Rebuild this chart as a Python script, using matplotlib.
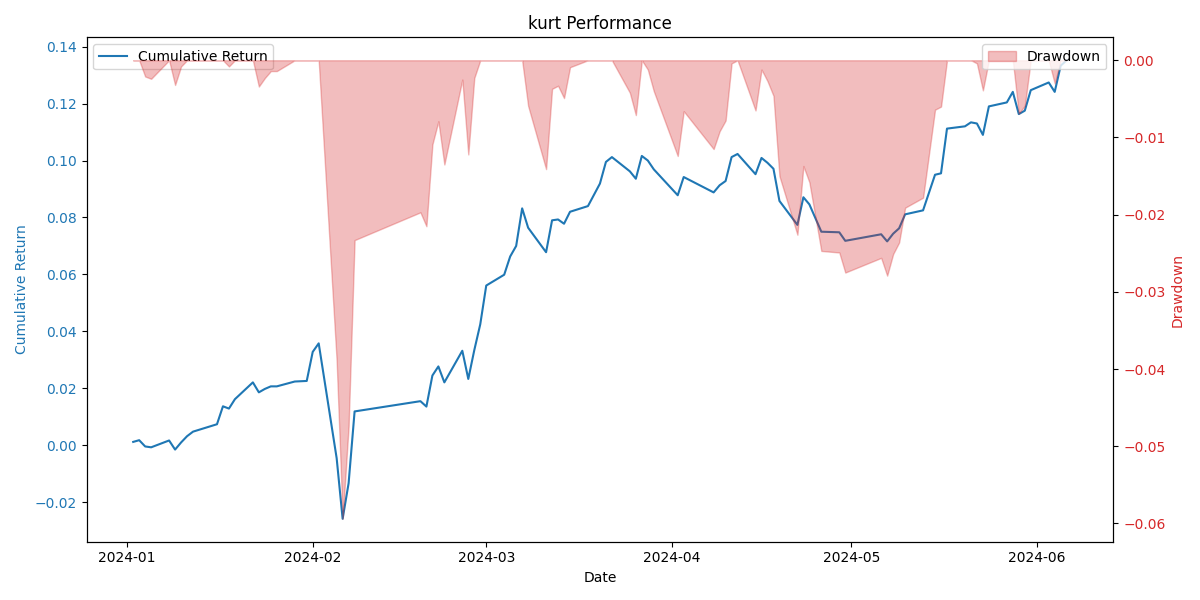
"""
Cumulative return and drawdown chart for kurt.
"""

import pandas as pd
import matplotlib

matplotlib.use("Agg")
import matplotlib.pyplot as plt


DATES = [
    "2024-01-02", "2024-01-03", "2024-01-04", "2024-01-05", "2024-01-08",
    "2024-01-09", "2024-01-10", "2024-01-11", "2024-01-12", "2024-01-16",
    "2024-01-17", "2024-01-18", "2024-01-19", "2024-01-22", "2024-01-23",
    "2024-01-24", "2024-01-25", "2024-01-26", "2024-01-29", "2024-01-30",
    "2024-01-31", "2024-02-01", "2024-02-02", "2024-02-05", "2024-02-06",
    "2024-02-07", "2024-02-08", "2024-02-19", "2024-02-20", "2024-02-21",
    "2024-02-22", "2024-02-23", "2024-02-26", "2024-02-27", "2024-02-28",
    "2024-02-29", "2024-03-01", "2024-03-04", "2024-03-05", "2024-03-06",
    "2024-03-07", "2024-03-08", "2024-03-11", "2024-03-12", "2024-03-13",
    "2024-03-14", "2024-03-15", "2024-03-18", "2024-03-20", "2024-03-21",
    "2024-03-22", "2024-03-25", "2024-03-26", "2024-03-27", "2024-03-28",
    "2024-03-29", "2024-04-02", "2024-04-03", "2024-04-08", "2024-04-09",
    "2024-04-10", "2024-04-11", "2024-04-12", "2024-04-15", "2024-04-16",
    "2024-04-17", "2024-04-18", "2024-04-19", "2024-04-22", "2024-04-23",
    "2024-04-24", "2024-04-26", "2024-04-29", "2024-04-30", "2024-05-06",
    "2024-05-07", "2024-05-08", "2024-05-09", "2024-05-10", "2024-05-13",
    "2024-05-15", "2024-05-16", "2024-05-17", "2024-05-20", "2024-05-21",
    "2024-05-22", "2024-05-23", "2024-05-24", "2024-05-27", "2024-05-28",
    "2024-05-29", "2024-05-30", "2024-05-31", "2024-06-03", "2024-06-04",
    "2024-06-05", "2024-06-06",
]

CUM_RETURN = [
    0.0012, 0.0018, -0.0004, -0.0007, 0.0017,
    -0.0015, 0.0010, 0.0032, 0.0048, 0.0074,
    0.0137, 0.0129, 0.0162, 0.0221, 0.0186,
    0.0198, 0.0207, 0.0207, 0.0224, 0.0225,
    0.0226, 0.0328, 0.0358, -0.0045, -0.0258,
    -0.0133, 0.0119, 0.0155, 0.0136, 0.0245,
    0.0277, 0.0221, 0.0332, 0.0233, 0.0334,
    0.0425, 0.0561, 0.0599, 0.0663, 0.0700,
    0.0832, 0.0764, 0.0678, 0.0790, 0.0793,
    0.0778, 0.0820, 0.0840, 0.0919, 0.0995,
    0.1012, 0.0962, 0.0936, 0.1016, 0.1000,
    0.0969, 0.0878, 0.0942, 0.0888, 0.0913,
    0.0928, 0.1012, 0.1023, 0.0952, 0.1009,
    0.0992, 0.0971, 0.0858, 0.0774, 0.0871,
    0.0846, 0.0750, 0.0748, 0.0718, 0.0741,
    0.0716, 0.0743, 0.0762, 0.0811, 0.0825,
    0.0950, 0.0955, 0.1112, 0.1120, 0.1134,
    0.1130, 0.1090, 0.1190, 0.1204, 0.1241,
    0.1163, 0.1175, 0.1247, 0.1274, 0.1241,
    0.1333, 0.1352,
]

DRAWDOWN = [
    0.0, 0.0, -0.0021, -0.0024, 0.0,
    -0.0032, -0.0008, 0.0, 0.0, 0.0,
    0.0, -0.0008, 0.0, 0.0, -0.0034,
    -0.0023, -0.0014, -0.0014, 0.0, 0.0,
    0.0, 0.0, 0.0, -0.0389, -0.0594,
    -0.0474, -0.0233, -0.0197, -0.0215, -0.0109,
    -0.0079, -0.0135, -0.0025, -0.0122, -0.0023,
    0.0, 0.0, 0.0, 0.0, 0.0,
    0.0, -0.0059, -0.0141, -0.0037, -0.0033,
    -0.0049, -0.0009, 0.0, 0.0, 0.0,
    0.0, -0.0042, -0.0071, 0.0, -0.0012,
    -0.0040, -0.0124, -0.0066, -0.0115, -0.0092,
    -0.0078, -0.0004, 0.0, -0.0065, -0.0012,
    -0.0027, -0.0046, -0.0150, -0.0226, -0.0137,
    -0.0158, -0.0247, -0.0249, -0.0275, -0.0256,
    -0.0279, -0.0251, -0.0236, -0.0191, -0.0178,
    -0.0064, -0.0060, 0.0, 0.0, 0.0,
    -0.0004, -0.0039, 0.0, 0.0, 0.0,
    -0.0069, -0.0059, 0.0, 0.0, -0.0030,
    0.0, 0.0,
]


def main():
    dates = pd.to_datetime(DATES)

    fig, ax1 = plt.subplots(figsize=(12, 6))

    ax1.plot(dates, CUM_RETURN, color="tab:blue", label="Cumulative Return")
    ax1.set_xlabel("Date")
    ax1.set_ylabel("Cumulative Return", color="tab:blue")
    ax1.tick_params(axis="y", labelcolor="tab:blue")
    ax1.legend(loc="upper left")

    # Drawdown on a second y axis
    ax2 = ax1.twinx()
    ax2.fill_between(dates, DRAWDOWN, 0, color="tab:red", alpha=0.3, label="Drawdown")
    ax2.set_ylabel("Drawdown", color="tab:red")
    ax2.tick_params(axis="y", labelcolor="tab:red")
    ax2.legend(loc="upper right")

    plt.title("kurt Performance")
    plt.tight_layout()
    plt.savefig("out.png", dpi=100)


if __name__ == "__main__":
    main()
